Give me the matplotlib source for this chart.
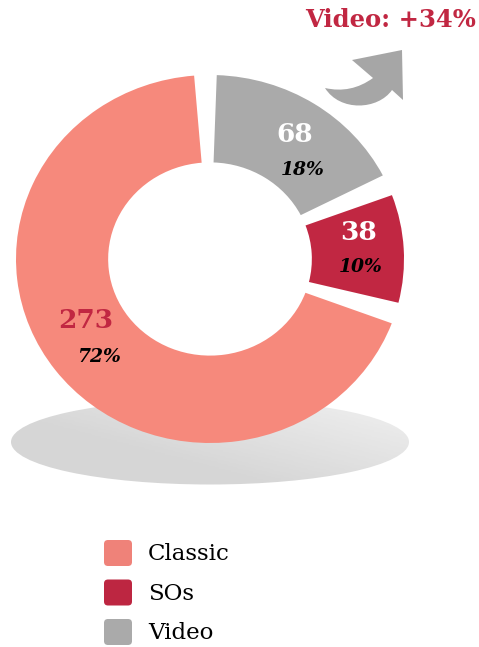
import matplotlib
matplotlib.use("Agg")
import matplotlib.pyplot as plt
import numpy as np
from matplotlib.patches import Ellipse, FancyBboxPatch, PathPatch, Wedge
from matplotlib.path import Path

# share of formats, listed clockwise from 12 o'clock
labels = ["Video", "SOs", "Classic"]
counts = [68, 38, 273]
pct_text = ["18%", "10%", "72%"]
colors = ["#AAAAAA", "#C12742", "#F6897C"]
growth_title = "Video: +34%"

# legend order
legend_labels = ["Classic", "SOs", "Video"]
legend_colors = ["#EF8279", "#BD2641", "#AAAAAA"]

W, H = 479, 647
plt.rcParams["font.family"] = ["DejaVu Serif"]

fig = plt.figure(figsize=(W / 100, H / 100), dpi=100)

# background layer: soft shadow under the ring
ax_bg = fig.add_axes([0, 0, 1, 1])
ax_bg.set_xlim(0, W)
ax_bg.set_ylim(H, 0)
ax_bg.axis("off")

shadow = Ellipse((210, 442), 398, 85, facecolor="none", edgecolor="none")
ax_bg.add_patch(shadow)
gx, gy = np.meshgrid(np.linspace(0, 1, 200), np.linspace(0, 1, 60))
grad = np.clip(0.75 * gx - 0.6 * gy + 0.1, 0, 1)
ax_bg.imshow(grad, cmap="Greys_r", vmin=-4.5, vmax=1.6,
             extent=(11, 409, 485, 400), aspect="auto", clip_path=shadow,
             interpolation="bilinear")

# donut ring: one wedge per format, with a small angular gap between them
Rx, Ry = 194.0, 184.0
cx, cy = 210.0, 259.0
ax = fig.add_axes([0, 0, 1, 1])
ax.patch.set_alpha(0)
ax.set_xlim(-cx / Rx, (W - cx) / Rx)
ax.set_ylim(-(H - cy) / Ry, cy / Ry)
ax.axis("off")

gap = 6.7
start = 88.0
span_total = 360.0 - gap * len(counts)
spans = np.array(counts) / np.sum(counts) * span_total
theta_hi = start
for val, sp, col in zip(counts, spans, colors):
    theta_lo = theta_hi - sp
    ax.add_patch(Wedge((0, 0), 1.0, theta_lo, theta_hi, width=0.475,
                       facecolor=col, edgecolor="none"))
    theta_hi = theta_lo - gap

# foreground: labels, arrow, legend
fg = fig.add_axes([0, 0, 1, 1])
fg.patch.set_alpha(0)
fg.set_xlim(0, W)
fg.set_ylim(H, 0)
fg.axis("off")

num_pos = [(295, 134), (359, 233), (86, 320)]
pct_pos = [(303, 170), (361, 267), (99, 357)]
num_colors = ["white", "white", "#C12742"]
for i in range(len(counts)):
    fg.text(*num_pos[i], str(counts[i]), ha="center", va="center",
            fontsize=19, fontweight="bold", color=num_colors[i])
    fg.text(*pct_pos[i], pct_text[i], ha="center", va="center",
            fontsize=13.5, fontweight="bold", fontstyle="italic", color="black")

fg.text(476, 20, growth_title, ha="right", va="center", fontsize=17.5,
        fontweight="bold", color="#C12742")

# curved growth arrow
verts = [(325, 88), (351, 94), (373, 78),
         (352, 60), (402, 50), (403, 100), (392, 90),
         (378, 110), (340, 112), (325, 88),
         (325, 88)]
codes = [Path.MOVETO, Path.CURVE3, Path.CURVE3,
         Path.LINETO, Path.LINETO, Path.LINETO, Path.LINETO,
         Path.CURVE4, Path.CURVE4, Path.CURVE4,
         Path.CLOSEPOLY]
fg.add_patch(PathPatch(Path(verts, codes), facecolor="#A6A6A6", edgecolor="none"))

# legend with rounded swatches
for i, lab in enumerate(legend_labels):
    y = 553 + 39.5 * i
    fg.add_patch(FancyBboxPatch((104, y - 13), 28, 26,
                                boxstyle="round,pad=0,rounding_size=4",
                                facecolor=legend_colors[i], edgecolor="none"))
    fg.text(148, y + 1, lab, ha="left", va="center", fontsize=16.5, color="black")

fig.savefig("out.png", dpi=100)
